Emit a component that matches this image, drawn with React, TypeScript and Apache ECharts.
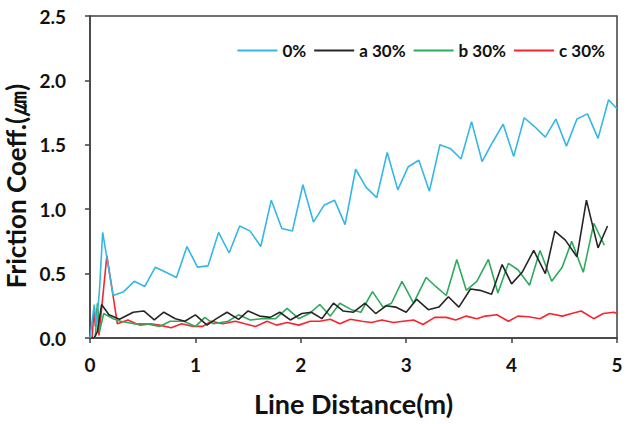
import React, { useEffect, useRef } from "react";
import * as echarts from "echarts";

const seriesNames = ["0%", "a 30%", "b 30%", "c 30%"];
const seriesColors = ["#35b7e6", "#262626", "#2eaa5c", "#f5262e"];

const xTicks = [0, 1, 2, 3, 4, 5];
const yTicks = [0, 0.5, 1.0, 1.5, 2.0, 2.5];

const zeroPct: [number, number][] = [
  [0, 0], [0.04, 0.26], [0.06, 0.1], [0.09, 0.37], [0.12, 0.82], [0.22, 0.33], [0.32, 0.36],
  [0.42, 0.44], [0.52, 0.4], [0.62, 0.55], [0.72, 0.51], [0.82, 0.47], [0.92, 0.71],
  [1.02, 0.55], [1.12, 0.56], [1.22, 0.82], [1.32, 0.66], [1.42, 0.87], [1.52, 0.83],
  [1.62, 0.71], [1.72, 1.07], [1.82, 0.85], [1.92, 0.83], [2.02, 1.19], [2.12, 0.9],
  [2.22, 1.03], [2.32, 1.07], [2.42, 0.88], [2.52, 1.31], [2.62, 1.17], [2.72, 1.09],
  [2.82, 1.44], [2.92, 1.15], [3.02, 1.33], [3.12, 1.38], [3.22, 1.14], [3.32, 1.5],
  [3.42, 1.47], [3.52, 1.39], [3.62, 1.68], [3.72, 1.37], [3.82, 1.52], [3.92, 1.66],
  [4.02, 1.41], [4.12, 1.71], [4.22, 1.64], [4.32, 1.56], [4.42, 1.7], [4.52, 1.49],
  [4.62, 1.7], [4.72, 1.74], [4.82, 1.55], [4.92, 1.85], [5.0, 1.78],
];

const a30: [number, number][] = [
  [0, 0], [0.04, 0], [0.07, 0.05], [0.11, 0.26], [0.18, 0.18], [0.28, 0.145], [0.41, 0.2],
  [0.51, 0.21], [0.61, 0.14], [0.7, 0.2], [0.81, 0.15], [0.9, 0.13], [1.0, 0.18],
  [1.11, 0.1], [1.2, 0.15], [1.3, 0.2], [1.41, 0.145], [1.5, 0.21], [1.61, 0.17],
  [1.71, 0.16], [1.8, 0.2], [1.9, 0.14], [2.01, 0.19], [2.1, 0.2], [2.2, 0.15],
  [2.31, 0.27], [2.4, 0.21], [2.5, 0.2], [2.61, 0.27], [2.71, 0.19], [2.81, 0.25],
  [2.9, 0.24], [3.0, 0.2], [3.1, 0.3], [3.21, 0.22], [3.31, 0.24], [3.4, 0.32],
  [3.5, 0.24], [3.61, 0.38], [3.7, 0.37], [3.81, 0.34], [3.91, 0.57], [4.0, 0.42],
  [4.1, 0.51], [4.21, 0.68], [4.32, 0.5], [4.41, 0.83], [4.51, 0.76], [4.62, 0.63],
  [4.71, 1.07], [4.82, 0.7], [4.91, 0.87],
];

const b30: [number, number][] = [
  [0, 0], [0.05, 0], [0.07, 0.27], [0.09, 0.05], [0.13, 0.19], [0.22, 0.15], [0.29, 0.13],
  [0.42, 0.11], [0.53, 0.11], [0.66, 0.09], [0.76, 0.13], [0.89, 0.13], [1.0, 0.09],
  [1.09, 0.16], [1.17, 0.11], [1.31, 0.13], [1.41, 0.18], [1.52, 0.14], [1.63, 0.15],
  [1.76, 0.15], [1.87, 0.23], [1.98, 0.15], [2.08, 0.19], [2.18, 0.26], [2.28, 0.17],
  [2.37, 0.27], [2.48, 0.22], [2.57, 0.2], [2.68, 0.36], [2.78, 0.24], [2.86, 0.27],
  [2.96, 0.44], [3.07, 0.27], [3.19, 0.47], [3.28, 0.4], [3.38, 0.33], [3.48, 0.61],
  [3.57, 0.37], [3.67, 0.44], [3.78, 0.61], [3.87, 0.35], [3.97, 0.58], [4.06, 0.53],
  [4.17, 0.41], [4.27, 0.68], [4.38, 0.44], [4.48, 0.55], [4.57, 0.75], [4.68, 0.51],
  [4.78, 0.89], [4.88, 0.72],
];

const c30: [number, number][] = [
  [0, 0], [0.02, 0], [0.04, 0.24], [0.05, 0.09], [0.07, 0.23], [0.085, 0.02], [0.16, 0.64],
  [0.26, 0.11], [0.36, 0.14], [0.47, 0.1], [0.57, 0.11], [0.66, 0.1], [0.77, 0.08],
  [0.87, 0.11], [0.98, 0.09], [1.07, 0.09], [1.15, 0.13], [1.26, 0.11], [1.38, 0.13],
  [1.47, 0.11], [1.57, 0.09], [1.68, 0.13], [1.77, 0.1], [1.87, 0.12], [1.98, 0.1],
  [2.09, 0.13], [2.18, 0.13], [2.28, 0.145], [2.37, 0.11], [2.47, 0.145], [2.58, 0.13],
  [2.67, 0.12], [2.77, 0.14], [2.88, 0.12], [2.97, 0.13], [3.07, 0.14], [3.16, 0.105],
  [3.27, 0.16], [3.38, 0.16], [3.47, 0.14], [3.57, 0.17], [3.67, 0.15], [3.75, 0.17],
  [3.86, 0.18], [3.97, 0.13], [4.06, 0.17], [4.16, 0.165], [4.27, 0.15], [4.36, 0.19],
  [4.48, 0.17], [4.57, 0.19], [4.66, 0.21], [4.78, 0.15], [4.87, 0.19], [4.97, 0.2],
  [5.0, 0.19],
];

const allData = [zeroPct, a30, b30, c30];

const FONT = "Lato, 'Noto Sans', sans-serif";
const AXIS_COLOR = "#404040";

export default function App() {
  const ref = useRef<HTMLDivElement>(null);
  useEffect(() => {
    document.body.style.margin = "0";
    if (!ref.current) return;
    const chart = echarts.init(ref.current, null, { renderer: "svg" });
    chart.setOption({
      animation: false,
      backgroundColor: "#ffffff",
      grid: {
        left: 90,
        right: 13,
        top: 16,
        bottom: 86,
        outerBoundsMode: "none",
        containLabel: false,
        show: true,
        borderColor: AXIS_COLOR,
        borderWidth: 1.5,
        backgroundColor: "transparent",
      },
      legend: {
        data: seriesNames.map((n) => ({ name: n, icon: "rect" })),
        right: 20,
        top: 37,
        itemWidth: 40,
        itemHeight: 2,
        itemGap: 8,
        textStyle: { fontFamily: FONT, fontWeight: "bold", fontSize: 17, color: "#111" },
      },
      xAxis: {
        type: "value",
        min: xTicks[0],
        max: xTicks[xTicks.length - 1],
        interval: 1,
        name: "Line Distance(m)",
        nameLocation: "middle",
        nameGap: 52,
        nameTextStyle: { fontFamily: FONT, fontWeight: "bold", fontSize: 27, color: "#111" },
        axisLine: { show: true, lineStyle: { color: AXIS_COLOR, width: 1.5 } },
        axisTick: { show: true, inside: false, length: 5, lineStyle: { color: AXIS_COLOR, width: 1.5 } },
        axisLabel: { fontFamily: FONT, fontWeight: "bold", fontSize: 19, color: "#111", margin: 17 },
        splitLine: { show: false },
      },
      yAxis: {
        type: "value",
        min: yTicks[0],
        max: yTicks[yTicks.length - 1],
        interval: 0.5,
        name: "Friction Coeff.(㎛)",
        nameLocation: "middle",
        nameGap: 57,
        nameTextStyle: {
          fontFamily: FONT,
          fontWeight: "bold",
          fontSize: 26,
          color: "#111",
          padding: [0, 18, 0, 0],
        },
        axisLine: { show: true, lineStyle: { color: AXIS_COLOR, width: 1.5 } },
        axisTick: { show: true, inside: false, length: 5, lineStyle: { color: AXIS_COLOR, width: 1.5 } },
        axisLabel: {
          fontFamily: FONT,
          fontWeight: "bold",
          fontSize: 19,
          color: "#111",
          margin: 24,
          formatter: (v: number) => v.toFixed(1),
        },
        splitLine: { show: false },
      },
      series: seriesNames.map((name, i) => ({
        name,
        type: "line",
        data: allData[i],
        symbol: "none",
        showSymbol: false,
        lineStyle: { color: seriesColors[i], width: 1.6 },
        itemStyle: { color: seriesColors[i] },
        z: 10 - i,
      })),
    });
    return () => chart.dispose();
  }, []);
  return <div ref={ref} style={{ width: 630, height: 424 }} />;
}
